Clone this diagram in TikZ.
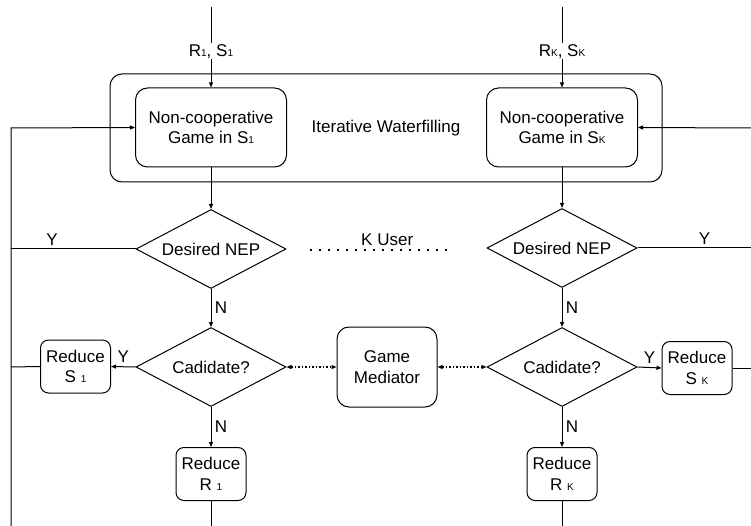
\documentclass[tikz,border=0pt]{standalone}
\usepackage{fontspec}
\setmainfont{Liberation Sans}
\usetikzlibrary{arrows.meta,shapes.geometric}
\newcommand{\idx}[1]{{\fontsize{10}{10}\selectfont #1}}

\begin{document}
\begin{tikzpicture}[x=1pt,y=-1pt,line width=1pt,
  font=\fontsize{17}{20.5}\selectfont,
  gamebox/.style={draw,rounded corners=12pt,minimum width=151pt,minimum height=79pt,align=center,inner sep=0pt},
  decision/.style={draw,diamond,aspect=1.9,minimum width=150pt,minimum height=79pt,inner sep=0pt},
  reducebox/.style={draw,rounded corners=8pt,minimum width=70pt,minimum height=53pt,align=center,inner sep=0pt},
  flow/.style={-{Triangle[length=5pt,width=4pt]}},
  dots/.style={dash pattern=on 1.5pt off 2pt,line width=1.3pt}]
  \useasboundingbox (0,0) rectangle (751,526);

  % Iterative waterfilling block
  \node[draw,rounded corners=12pt,minimum width=552pt,minimum height=108pt] (iwf) at (386,128) {Iterative Waterfilling};
  \node[gamebox] (nc1) at (211,127.5) {Non-cooperative\\Game in S\idx{1}};
  \node[gamebox] (ncK) at (562,127.5) {Non-cooperative\\Game in S\idx{K}};

  % Decisions
  \node[decision] (nep1) at (211,249) {Desired NEP};
  \node[decision] (nepK) at (562,248) {Desired NEP};
  \node[decision] (cand1) at (211,367) {Cadidate?};
  \node[decision] (candK) at (562,367) {Cadidate?};
  \node[draw,rounded corners=12pt,minimum width=100pt,minimum height=80pt,align=center,inner sep=0pt] (med) at (387,367) {Game\\Mediator};

  % Reductions
  \node[reducebox] (rs1) at (75.5,366.5) {Reduce\\S \idx{1}};
  \node[reducebox] (rsK) at (697,368) {Reduce\\S \idx{K}};
  \node[reducebox] (rr1) at (211,474) {Reduce\\R \idx{1}};
  \node[reducebox] (rrK) at (562,474) {Reduce\\R \idx{K}};

  % Free ends
  \coordinate (in1) at (211,7);
  \coordinate (inK) at (562,7);
  \coordinate (fbL) at (11,128);
  \coordinate (fbLbot) at (11,526);
  \coordinate (fbR) at (751,128);
  \coordinate (y1) at (11,249);
  \coordinate (yK) at (751,248);
  \coordinate (s1) at (11,367);
  \coordinate (sK) at (751,368);
  \coordinate (out1) at (211,526);
  \coordinate (outK) at (562,526);
  \coordinate (ku1) at (310,250);
  \coordinate (ku2) at (453,250);

  % User 1
  \draw[flow] (in1) -- node[fill=white,inner sep=1pt,pos=0.55] {R\idx{1}, S\idx{1}} (nc1.north);
  \draw[flow] (nc1.south) -- (nep1.north);
  \draw[flow] (nep1.south) -- node[right] {N} (cand1.north);
  \draw[flow] (cand1.south) -- node[right] {N} (rr1.north);
  \draw (rr1.south) -- (out1);
  \draw[flow] (cand1.west) -- node[above] {Y} (rs1.east);
  \draw (rs1.west) -- (s1);
  \draw (nep1.west) -- node[pos=0.67,above] {Y} (y1);
  \draw[flow] (fbLbot) -- (fbL) -- (nc1.west);

  % User K
  \draw[flow] (inK) -- node[fill=white,inner sep=1pt,pos=0.55] {R\idx{K}, S\idx{K}} (ncK.north);
  \draw[flow] (ncK.south) -- (nepK.north);
  \draw[flow] (nepK.south) -- node[right] {N} (candK.north);
  \draw[flow] (candK.south) -- node[right] {N} (rrK.north);
  \draw (rrK.south) -- (outK);
  \draw[flow] (candK.east) -- node[above] {Y} (rsK.west);
  \draw (rsK.east) -- (sK);
  \draw (nepK.east) -- node[pos=0.59,above] {Y} (yK);
  \draw[flow] (fbR) -- (ncK.east);

  % Mediator links
  \draw[dots,{Triangle[length=5pt,width=4pt]}-{Triangle[length=5pt,width=4pt]}] (cand1.east) -- (med.west);
  \draw[dots,{Triangle[length=5pt,width=4pt]}-{Triangle[length=5pt,width=4pt]}] (med.east) -- (candK.west);
  \draw[dash pattern=on 2pt off 7pt,line width=1.5pt] (ku1) -- node[above,pos=0.54] {K User} (ku2);
\end{tikzpicture}
\end{document}
